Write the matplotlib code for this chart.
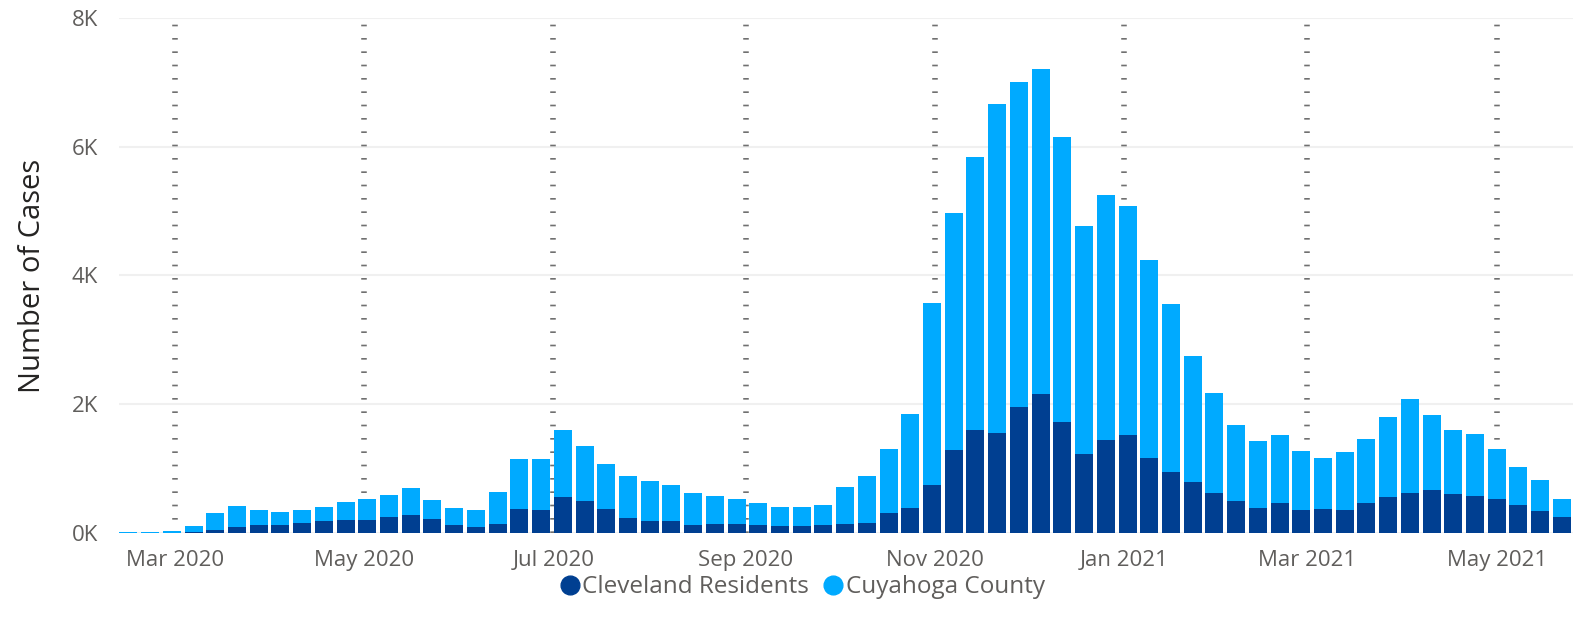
import numpy as np
import pandas as pd
import matplotlib
matplotlib.use("Agg")
import matplotlib.pyplot as plt
from matplotlib.lines import Line2D

plt.rcParams['font.family'] = ['Open Sans', 'DejaVu Sans']

# weekly case counts, week dates
weeks = pd.date_range("2020-02-15", periods=67, freq="7D")
county = [15, 15, 30, 109, 311, 420, 357, 326, 357, 404,
          482, 528, 591, 700, 513, 389, 357, 637, 1150, 1150,
          1601, 1352, 1073, 886, 808, 746, 622, 575, 528, 466,
          404, 404, 435, 715, 886, 1306, 1850, 3577, 4976, 5832,
          6656, 6998, 7200, 6143, 4774, 5256, 5085, 4246, 3560, 2752,
          2177, 1679, 1430, 1524, 1275, 1166, 1259, 1461, 1803, 2083,
          1835, 1601, 1539, 1306, 1026, 824, 528]
cleveland = [2, 2, 6, 20, 47, 93, 124, 124, 155, 187,
             202, 202, 249, 280, 218, 124, 93, 140, 373, 357,
             560, 497, 373, 233, 187, 187, 124, 140, 140, 124,
             109, 109, 124, 140, 155, 311, 389, 746, 1290, 1601,
             1555, 1960, 2162, 1726, 1228, 1446, 1524, 1166, 948, 793,
             622, 497, 389, 466, 358, 373, 358, 466, 560, 622,
             669, 606, 575, 528, 435, 342, 249]
month_ticks = pd.to_datetime(["2020-03-01", "2020-05-01", "2020-07-01", "2020-09-01",
                              "2020-11-01", "2021-01-01", "2021-03-01", "2021-05-01"])
month_labels = ["Mar 2020", "May 2020", "Jul 2020", "Sep 2020",
                "Nov 2020", "Jan 2021", "Mar 2021", "May 2021"]

dark = "#003F91"
light = "#00AAFF"

fig = plt.figure(figsize=(15.75, 6.29), dpi=100)
ax = fig.add_axes([0.0756, 0.1526, 0.923, 0.819])

ax.bar(weeks, county, width=5.8, color=light, zorder=3)
ax.bar(weeks, cleveland, width=5.8, color=dark, zorder=4)

# dotted month lines
for t in month_ticks:
    ax.axvline(t, color="#707070", lw=4, dashes=(0.3, 2.1), zorder=2)

ax.set_xlim(weeks[0] - pd.Timedelta(days=3), weeks[-1] + pd.Timedelta(days=3.5))
ax.set_ylim(0, 8000)
ax.set_yticks([0, 2000, 4000, 6000, 8000])
ax.set_yticklabels(["0K", "2K", "4K", "6K", "8K"])
ax.set_xticks(month_ticks)
ax.set_xticklabels(month_labels)
ax.yaxis.grid(True, color="#F0F0F0", lw=1.5, zorder=0)
ax.tick_params(axis="both", length=0, labelsize=16, labelcolor="#605E5C")
ax.tick_params(axis="y", pad=15)
ax.tick_params(axis="x", pad=12)
for s in ax.spines.values():
    s.set_visible(False)

ax.set_ylabel("Number of Cases", fontsize=21, color="#252423", labelpad=18)

handles = [Line2D([], [], marker="o", ls="", color=dark, markersize=13.5),
           Line2D([], [], marker="o", ls="", color=light, markersize=13.5)]
fig.legend(handles, ["Cleveland Residents", "Cuyahoga County"], loc="center",
           bbox_to_anchor=(0.508, 0.066), ncol=2, frameon=False, fontsize=17.5,
           labelcolor="#605E5C", handletextpad=-0.1, columnspacing=0.4,
           handlelength=1.2)

fig.savefig("out.png", dpi=100)
